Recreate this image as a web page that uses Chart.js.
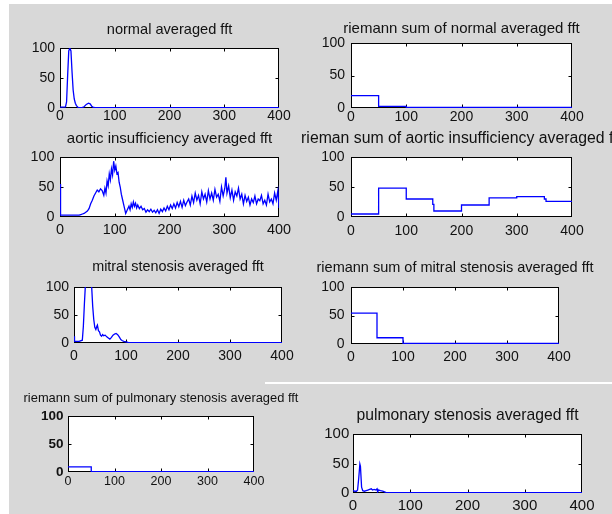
<!DOCTYPE html>
<html><head><meta charset="utf-8">
<script src="https://cdn.jsdelivr.net/npm/chart.js@4.4.0/dist/chart.umd.min.js"></script>
<style>
html,body{margin:0;padding:0;width:612px;height:514px;overflow:hidden;background:#fff;position:relative;}
#bg{position:absolute;left:9px;top:4px;width:603px;height:510px;background:#d8d8d8;}
#wline{position:absolute;left:265px;top:382px;width:347px;height:2px;background:#fff;}
canvas{position:absolute;}
</style></head><body>
<div id="bg"></div><div id="wline"></div>
<script>
// ---- data ----
const xTickValues = [0, 100, 200, 300, 400];
const yTickValues = [0, 50, 100];
const binEdges = [0, 50, 100, 150, 200, 250, 300, 350, 400];

const normalX = [0, 5, 10, 12, 14, 16, 18, 20, 22, 24, 26, 28, 30, 33, 36, 40, 44, 48, 52, 55, 58, 61, 65, 100, 200, 300, 400];
const normalY = [1.5, 1.5, 2, 10, 55, 95, 100, 95, 60, 30, 15, 8, 4, 1, 0.5, 0.5, 2, 6, 8, 7, 3, 1, 0.5, 0.5, 0.5, 0.5, 0.5];

const normalRiemann = [19, 2.5, 0.8, 0.8, 0.8, 0.8, 0.8, 0.8];

const aorticX = [0, 1, 35, 38, 41, 44, 47, 50, 53, 56, 59, 62, 65, 68, 71, 74, 77, 80, 82, 84, 86, 88, 90, 92, 94, 96, 98, 100, 102, 104, 106, 108, 110, 112, 114, 116, 118, 120, 122, 124, 126, 128, 130, 132, 134, 136, 138, 140, 142, 145, 148, 151, 154, 157, 160, 163, 166, 169, 172, 175, 178, 181, 184, 187, 190, 193, 196, 199, 202, 205, 208, 211, 214, 217, 220, 223, 226, 229, 232, 235, 238, 241, 244, 247, 250, 253, 256, 259, 262, 265, 268, 271, 274, 277, 280, 283, 286, 289, 292, 295, 298, 301, 303, 305, 308, 311, 314, 317, 320, 323, 326, 329, 332, 335, 338, 341, 344, 347, 350, 353, 356, 359, 362, 365, 368, 371, 374, 377, 380, 383, 386, 389, 392, 395, 398, 400];
const aorticY = [55, 3, 3, 4, 5, 6, 8, 10, 14, 22, 28, 35, 40, 45, 42, 47, 44, 36, 48, 40, 60, 52, 72, 62, 80, 70, 93, 78, 85, 72, 74, 58, 50, 38, 30, 22, 14, 6, 10, 14, 18, 12, 22, 16, 25, 18, 23, 15, 20, 14, 18, 12, 14, 8, 12, 9, 13, 8, 11, 7, 12, 6, 13, 9, 15, 10, 18, 12, 20, 14, 22, 15, 24, 17, 26, 16, 28, 19, 25, 30, 20, 35, 24, 40, 28, 36, 22, 42, 30, 38, 25, 44, 30, 40, 28, 46, 33, 38, 26, 50, 35, 48, 66, 40, 52, 32, 45, 28, 42, 35, 48, 30, 38, 22, 36, 26, 33, 20, 30, 24, 35, 22, 30, 27, 36, 22, 28, 20, 38, 25, 30, 22, 40, 28, 44, 15];

const aorticRiemannX = [0, 50, 100, 148, 150, 200, 250, 300, 350, 353, 400];
const aorticRiemannY = [5, 48, 30, 21, 10, 20, 32, 34, 30, 26, 26];

const mitralX = [0, 1, 10, 16, 18, 20, 22, 24, 26, 29, 32, 34, 36, 38, 40, 42, 44, 45, 47, 49, 51, 53, 55, 57, 60, 63, 66, 69, 72, 75, 78, 81, 84, 87, 90, 93, 96, 100, 104, 110, 200, 300, 400];
const mitralY = [12, 3, 3, 5, 30, 70, 105, 140, 160, 150, 120, 100, 65, 42, 28, 24, 30, 32, 22, 20, 14, 12, 15, 13, 14, 11, 9, 7, 10, 14, 16, 17, 15, 11, 6, 4, 3, 2, 1, 0.5, 0.5, 0.5, 0.5];

const mitralRiemann = [54, 11, 1, 1, 1, 1, 1, 1];

const pulmonaryRiemann = [9, 0.8, 0.8, 0.8, 0.8, 0.8, 0.8, 0.8];

const pulmonaryX = [0, 3, 6, 8, 10, 12, 13, 15, 17, 20, 23, 26, 29, 32, 34, 37, 40, 42, 43, 45, 48, 52, 55, 58, 100, 200, 300, 400];
const pulmonaryY = [4, 3, 3, 5, 25, 49, 45, 10, 4, 3, 4, 5, 6, 7, 5, 6, 5, 7, 2, 5, 4, 3, 2, 0.8, 0.8, 0.8, 0.8, 0.8];

const titles = [
  'normal averaged fft',
  'riemann sum of normal averaged fft',
  'aortic insufficiency averaged fft',
  'rieman sum of aortic insufficiency averaged fft',
  'mitral stenosis averaged fft',
  'riemann sum of mitral stenosis averaged fft',
  'riemann sum of pulmonary stenosis averaged fft',
  'pulmonary stenosis averaged fft'
];

// ---- helpers ----
function pairs(xs, ys) { return xs.map((x, i) => ({x: x, y: ys[i]})); }
function steps(edges, vals) {
  const pts = vals.map((v, i) => ({x: edges[i], y: v}));
  pts.push({x: edges[edges.length - 1], y: vals[vals.length - 1]});
  return pts;
}

const FONT = "'Liberation Sans', Arial, sans-serif";

// layout (positions / styles only)
const panels = [
  {data: pairs(normalX, normalY), title: titles[0], l: 60, t: 48, r: 279, b: 108, tMid: 30.2, tSize: 14.6, kSize: 14, xPad: 0, yPad: 5},
  {data: steps(binEdges, normalRiemann), stepped: true, title: titles[1], l: 351, t: 43, r: 572, b: 108, tMid: 29.3, tSize: 15, kSize: 14, xPad: 1, yPad: 6},
  {data: pairs(aorticX, aorticY), title: titles[2], l: 60, t: 157, r: 279, b: 217, tMid: 138.7, tSize: 15, kSize: 14.4, xPad: 4.5, yPad: 5.5},
  {data: pairs(aorticRiemannX, aorticRiemannY), stepped: true, title: titles[3], l: 351, t: 157, r: 572, b: 217, tMid: 138.3, tSize: 15.8, kSize: 14, xPad: 5.5, yPad: 6.5},
  {data: pairs(mitralX, mitralY), title: titles[4], l: 74, t: 287, r: 282, b: 343, tMid: 267.2, tSize: 14.4, kSize: 14, xPad: 4.5, yPad: 5},
  {data: steps(binEdges, mitralRiemann), stepped: true, title: titles[5], l: 351, t: 287, r: 559, b: 344, tMid: 268.2, tSize: 14.5, kSize: 14, xPad: 4.5, yPad: 6.5},
  {data: steps(binEdges, pulmonaryRiemann), stepped: true, title: titles[6], l: 68, t: 416, r: 254, b: 472, tMid: 398.5, tSize: 12.9, kSize: 12.5, yWeight: 'bold', ySize: 13.5, xPad: 2.4, yPad: 4.5},
  {data: pairs(pulmonaryX, pulmonaryY), title: titles[7], l: 353, t: 434, r: 582, b: 493, tMid: 416.1, tSize: 15.7, kSize: 15, xPad: 4, yPad: 3.7}
];

const boxPlugin = {
  id: 'matlabBox',
  beforeDatasetsDraw(chart) {
    const {ctx, chartArea: a, scales} = chart;
    ctx.save();
    ctx.fillStyle = '#ffffff';
    ctx.fillRect(a.left, a.top, a.right - a.left, a.bottom - a.top);
    const L = Math.round(a.left) + 0.5, R = Math.round(a.right) - 0.5;
    const T = Math.round(a.top) + 0.5, B = Math.round(a.bottom) - 0.5;
    ctx.strokeStyle = '#000';
    ctx.lineWidth = 1;
    ctx.strokeRect(L, T, R - L, B - T);
    ctx.beginPath();
    xTickValues.slice(1, -1).forEach(v => {
      const p = Math.round(scales.x.getPixelForValue(v)) + 0.5;
      ctx.moveTo(p, B); ctx.lineTo(p, B - 3);
      ctx.moveTo(p, T); ctx.lineTo(p, T + 3);
    });
    yTickValues.slice(1, -1).forEach(v => {
      const p = Math.round(scales.y.getPixelForValue(v)) + 0.5;
      ctx.moveTo(L, p); ctx.lineTo(L + 3, p);
      ctx.moveTo(R, p); ctx.lineTo(R - 3, p);
    });
    ctx.stroke();
    ctx.restore();
  }
};

function makePanel(cfg) {
  const M = 80, TOPM = 45, BOTM = 40;
  const W = (cfg.r - cfg.l) + 2 * M;
  const H = (cfg.b - cfg.t) + TOPM + BOTM;
  const cv = document.createElement('canvas');
  cv.width = W; cv.height = H;
  cv.style.left = (cfg.l - M) + 'px';
  cv.style.top = (cfg.t - TOPM) + 'px';
  cv.style.width = W + 'px'; cv.style.height = H + 'px';
  document.body.appendChild(cv);
  const lh = cfg.tSize * 1.2;
  const padTop = cfg.tMid - (cfg.t - TOPM) - lh / 2;
  const titlePadBottom = TOPM - padTop - lh;
  const xFont = {family: FONT, size: cfg.kSize, lineHeight: 1.2};
  const yFont = {family: FONT, size: cfg.ySize || cfg.kSize, weight: cfg.yWeight || 'normal', lineHeight: 1.2};
  new Chart(cv, {
    type: 'line',
    data: {datasets: [{
      data: cfg.data, borderColor: '#0000ff', backgroundColor: '#0000ff',
      borderWidth: 1.3, pointRadius: 0, tension: 0, fill: false,
      stepped: cfg.stepped ? 'before' : false
    }]},
    options: {
      responsive: false, animation: false, devicePixelRatio: 1,
      parsing: false, normalized: true,
      layout: {padding: {top: padTop, left: 0, right: 0, bottom: 0}},
      plugins: {
        legend: {display: false}, tooltip: {enabled: false},
        title: {display: true, text: cfg.title, color: '#111',
          font: {family: FONT, size: cfg.tSize, weight: 'normal', lineHeight: 1.2},
          padding: {top: 0, bottom: titlePadBottom}}
      },
      scales: {
        x: {type: 'linear', min: 0, max: 400,
          afterBuildTicks: s => { s.ticks = xTickValues.map(v => ({value: v})); },
          grid: {display: false, drawTicks: false}, border: {display: false},
          ticks: {color: '#111', font: xFont, padding: cfg.xPad, autoSkip: false, maxRotation: 0},
          afterFit: s => { s.height = BOTM; }},
        y: {type: 'linear', min: 0, max: 100,
          afterBuildTicks: s => { s.ticks = yTickValues.map(v => ({value: v})); },
          grid: {display: false, drawTicks: false}, border: {display: false},
          ticks: {color: '#111', font: yFont, padding: cfg.yPad},
          afterFit: s => { s.width = M; }},
        yR: {type: 'linear', position: 'right', display: true,
          grid: {display: false, drawTicks: false}, border: {display: false},
          ticks: {display: false},
          afterFit: s => { s.width = M; }}
      }
    },
    plugins: [boxPlugin]
  });
}
panels.forEach(makePanel);
</script>
</body></html>
